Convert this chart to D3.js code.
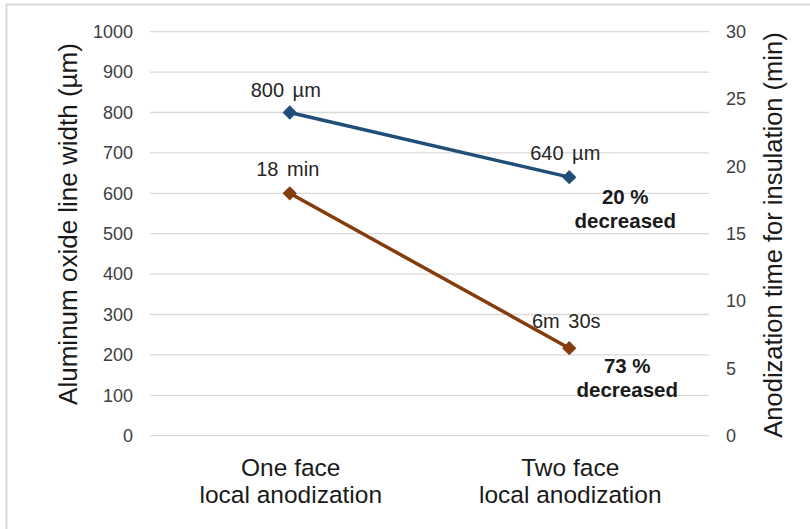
<!DOCTYPE html>
<html>
<head>
<meta charset="utf-8">
<script src="https://cdn.jsdelivr.net/npm/d3@7/dist/d3.min.js"></script>
<style>
  html, body { margin: 0; padding: 0; background: #fff; }
  svg { display: block; font-family: "Liberation Sans", Arial, sans-serif; }
</style>
</head>
<body>
<svg id="chart" width="810" height="529"></svg>
<script>
// Categories and series
const categories = ["One face\nlocal anodization", "Two face\nlocal anodization"];
const lineWidth = [800, 640];          // µm, left axis
const anodTime = [18, 6.5];            // min, right axis
const widthLabels = ["800 µm", "640 µm"];
const timeLabels = ["18 min", "6m 30s"];
const leftTicks = [0, 100, 200, 300, 400, 500, 600, 700, 800, 900, 1000];
const rightTicks = [0, 5, 10, 15, 20, 25, 30];
const decreaseNotes = [["20 %", "decreased"], ["73 %", "decreased"]];

const svg = d3.select("#chart");
const W = 810, H = 529;
const plot = { left: 150, right: 709, top: 31.7, bottom: 435.7 };
const FONT = "Liberation Sans, Arial, sans-serif";

const blue = "#1f4e79";
const brown = "#843c0c";

// frame around the chart
svg.append("line").attr("x1", 6).attr("x2", W).attr("y1", 4.5).attr("y2", 4.5)
  .attr("stroke", "#d9d9d9").attr("stroke-width", 2);
svg.append("line").attr("x1", 6.5).attr("x2", 6.5).attr("y1", 4).attr("y2", H)
  .attr("stroke", "#d9d9d9").attr("stroke-width", 2);

const x = d3.scaleBand().domain(categories).range([plot.left, plot.right]);
const yL = d3.scaleLinear().domain([0, 1000]).range([plot.bottom, plot.top]);
const yR = d3.scaleLinear().domain([0, 30]).range([plot.bottom, plot.top]);
const cx = d => x(d) + x.bandwidth() / 2;

// gridlines
svg.append("g").selectAll("line").data(leftTicks).join("line")
  .attr("x1", plot.left).attr("x2", plot.right)
  .attr("y1", d => yL(d)).attr("y2", d => yL(d))
  .attr("stroke", "#d9d9d9").attr("stroke-width", 1.3);

// left axis
const gL = svg.append("g").attr("transform", `translate(${plot.left},0)`)
  .call(d3.axisLeft(yL).tickValues(leftTicks).tickFormat(d3.format("d")).tickSize(0).tickPadding(17))
  .attr("font-size", 18).attr("font-family", FONT);
gL.select(".domain").remove();
gL.selectAll("text").attr("fill", "#404040");

// right axis
const gR = svg.append("g").attr("transform", `translate(${plot.right},0)`)
  .call(d3.axisRight(yR).tickValues(rightTicks).tickSize(0).tickPadding(17))
  .attr("font-size", 18).attr("font-family", FONT);
gR.select(".domain").remove();
gR.selectAll("text").attr("fill", "#404040");

// category labels
const cat = svg.append("g").selectAll("text").data(categories).join("text")
  .attr("text-anchor", "middle").attr("font-size", 24.5).attr("fill", "#1a1a1a");
cat.each(function(d) {
  const lines = d.split("\n");
  d3.select(this).selectAll("tspan").data(lines).join("tspan")
    .attr("x", cx(d) + 1).attr("y", (l, i) => 476 + i * 27).text(l => l);
});

// axis titles
svg.append("text").attr("transform", "translate(77,224) rotate(-90)")
  .attr("text-anchor", "middle").attr("font-size", 26).attr("fill", "#1a1a1a")
  .text("Aluminum oxide line width (µm)");
svg.append("text").attr("transform", "translate(782,235) rotate(-90)")
  .attr("text-anchor", "middle").attr("font-size", 25.5).attr("fill", "#1a1a1a")
  .text("Anodization time for insulation (min)");

// series lines and markers
const diamond = d3.symbol().type(d3.symbolDiamond2).size(130);
function drawSeries(values, scale, color) {
  const pts = values.map((v, i) => [cx(categories[i]), scale(v)]);
  svg.append("path").attr("d", d3.line()(pts))
    .attr("fill", "none").attr("stroke", color).attr("stroke-width", 3.5);
  svg.append("g").selectAll("path").data(pts).join("path")
    .attr("transform", p => `translate(${p[0]},${p[1]})`)
    .attr("d", diamond).attr("fill", color);
  return pts;
}
const bPts = drawSeries(lineWidth, yL, blue);
const rPts = drawSeries(anodTime, yR, brown);

// data labels
const lblW = [[-4, -16], [-4, -17]];
svg.append("g").selectAll("text").data(widthLabels).join("text")
  .attr("x", (d, i) => bPts[i][0] + lblW[i][0]).attr("y", (d, i) => bPts[i][1] + lblW[i][1])
  .attr("text-anchor", "middle").attr("font-size", 20).attr("word-spacing", 3)
  .attr("fill", "#262626").text(d => d);
const lblT = [[-2, -17], [-3, -20]];
svg.append("g").selectAll("text").data(timeLabels).join("text")
  .attr("x", (d, i) => rPts[i][0] + lblT[i][0]).attr("y", (d, i) => rPts[i][1] + lblT[i][1])
  .attr("text-anchor", "middle").attr("font-size", 20).attr("word-spacing", 3)
  .attr("fill", "#262626").text(d => d);

// decrease notes
const noteY = [[204, 228], [373, 397]];
decreaseNotes.forEach((lines, i) => {
  const t = svg.append("text").attr("text-anchor", "middle")
    .attr("font-size", 20.5).attr("font-weight", "bold").attr("fill", "#1a1a1a");
  lines.forEach((l, j) => {
    t.append("tspan").attr("x", (i === 0 ? bPts[1][0] : rPts[1][0]) + 56 + i * 2)
      .attr("y", noteY[i][j]).text(l);
  });
});
</script>
</body>
</html>
